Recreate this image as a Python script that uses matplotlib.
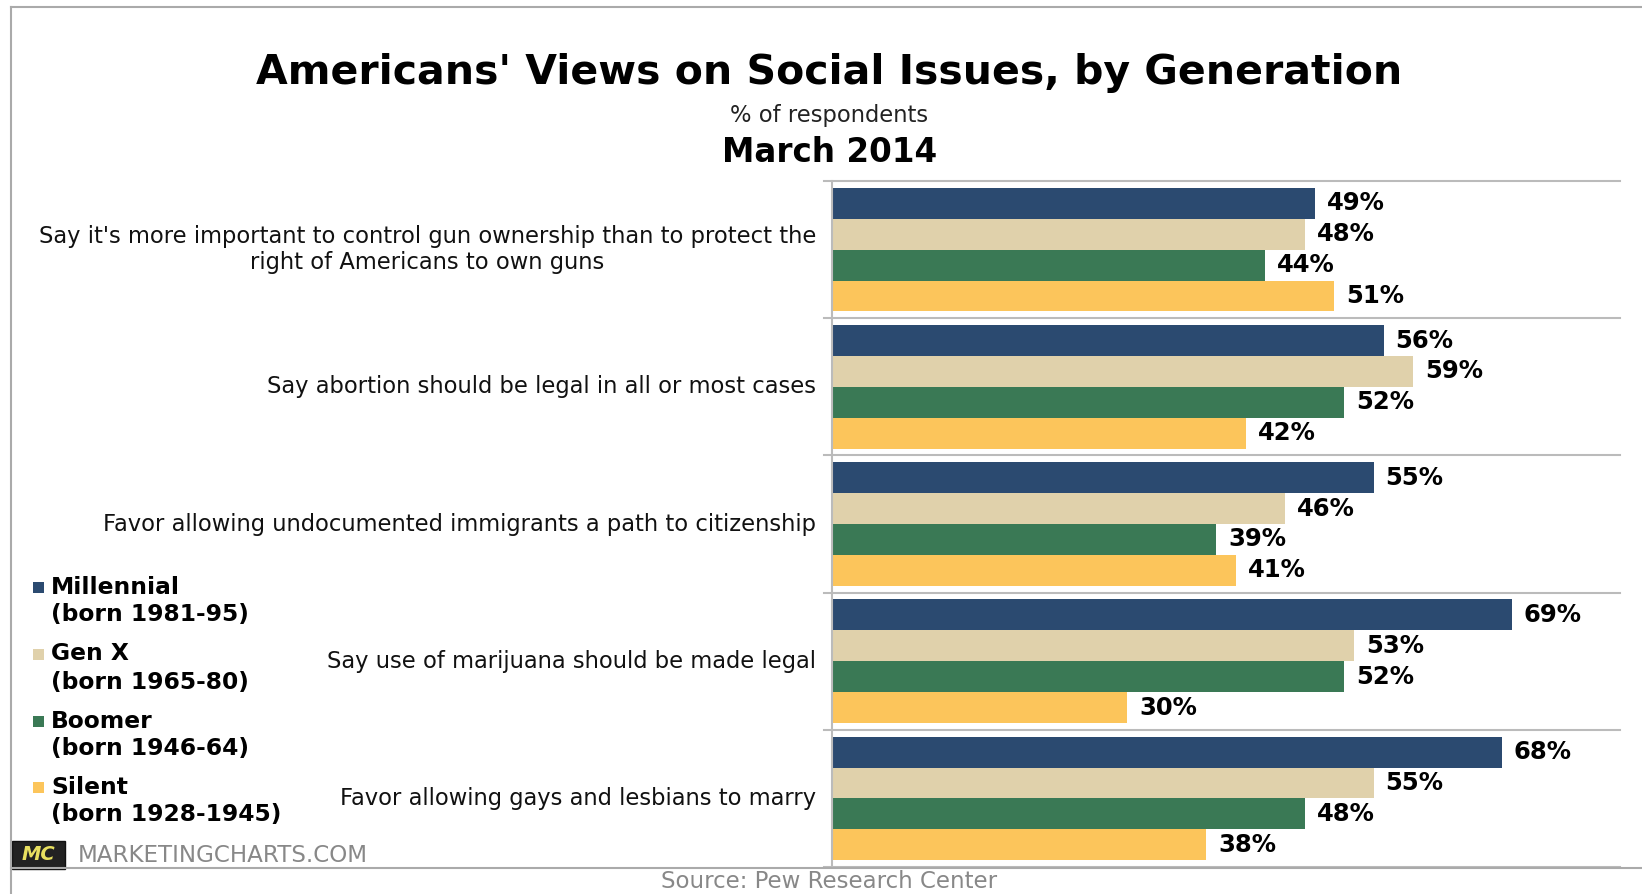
#!/usr/bin/env python3
"""Americans' views on social issues, by generation (bar chart recreation)."""

import numpy as np
import matplotlib
matplotlib.use("Agg")
import matplotlib.pyplot as plt
from matplotlib.lines import Line2D
from matplotlib.patches import Rectangle

# Data
issues = [
    "Say it's more important to control gun ownership than to protect the\nright of Americans to own guns",
    "Say abortion should be legal in all or most cases",
    "Favor allowing undocumented immigrants a path to citizenship",
    "Say use of marijuana should be made legal",
    "Favor allowing gays and lesbians to marry",
]
generations = ["Millennial", "Gen X", "Boomer", "Silent"]
born = ["(born 1981-95)", "(born 1965-80)", "(born 1946-64)", "(born 1928-1945)"]
millennial = [49, 56, 55, 69, 68]
gen_x = [48, 59, 46, 53, 55]
boomer = [44, 52, 39, 52, 48]
silent = [51, 42, 41, 30, 38]
colors = ["#2B4A70", "#E0D1AB", "#3A7955", "#FCC55B"]

series = [millennial, gen_x, boomer, silent]

plt.rcParams['font.family'] = ['DejaVu Sans']

fig = plt.figure(figsize=(16.42, 8.94), dpi=100)
fig.patch.set_facecolor('white')

ax = fig.add_axes([0.5067, 0.0302, 0.4799, 0.7673])

y = np.arange(len(issues))
bar_h = 0.225
offsets = np.array([-1.5, -0.5, 0.5, 1.5]) * bar_h
for vals, off, col in zip(series, offsets, colors):
    ax.barh(y + off, vals, height=bar_h, color=col, edgecolor='none')
    for yi, v in zip(y, vals):
        ax.text(v + 1.2, yi + off, f"{v}%", va='center', ha='left',
                fontsize=17.5, fontweight='bold', color='black')

ax.set_xlim(0, 80)
ax.set_ylim(len(issues) - 0.5, -0.5)
ax.set_xticks([])
ax.set_yticks([])
for s in ['top', 'right', 'bottom']:
    ax.spines[s].set_visible(False)
ax.spines['left'].set_color('#BBBBBB')
ax.spines['left'].set_linewidth(1.5)

# group separators
for b in np.arange(len(issues) + 1) - 0.5:
    ax.plot([-0.8, 80], [b, b], color='#BBBBBB', lw=1.5, clip_on=False,
            zorder=0)

# category labels
for yi, lab in zip(y, issues):
    ax.text(-1.6, yi, lab, ha='right', va='center', multialignment='center',
            fontsize=16.3, color='#111111', linespacing=1.15)

# titles
fig.text(0.505, 0.918, "Americans' Views on Social Issues, by Generation",
         ha='center', va='center', fontsize=29.5, fontweight='bold')
fig.text(0.505, 0.871, "% of respondents", ha='center', va='center',
         fontsize=16.3, color='#222222')
fig.text(0.505, 0.829, "March 2014", ha='center', va='center',
         fontsize=23.5, fontweight='bold')

# legend
leg_y = [587, 654, 721, 787]
for g, b, col, yy in zip(generations, born, colors, leg_y):
    yf = 1 - yy / 894
    fig.add_artist(Rectangle((33 / 1642, yf - 5.5 / 894), 11 / 1642, 11 / 894,
                             facecolor=col, edgecolor='none',
                             transform=fig.transFigure))
    fig.text(51 / 1642, yf, g, ha='left', va='center', fontsize=16.8,
             fontweight='bold')
    fig.text(51 / 1642, 1 - (yy + 28) / 894, b, ha='left', va='center',
             fontsize=16.8, fontweight='bold')

# frame
fig.add_artist(Line2D([11 / 1642, 1], [1 - 7 / 894, 1 - 7 / 894],
                      color='#AAAAAA', lw=1.5, transform=fig.transFigure))
fig.add_artist(Line2D([11 / 1642, 11 / 1642], [0, 1 - 7 / 894],
                      color='#AAAAAA', lw=1.5, transform=fig.transFigure))
fig.add_artist(Line2D([11 / 1642, 1], [1 - 868 / 894, 1 - 868 / 894],
                      color='#AAAAAA', lw=1.5, transform=fig.transFigure))

# MC logo and footer
fig.add_artist(Rectangle((12 / 1642, 1 - 869 / 894), 53 / 1642, 28 / 894,
                         facecolor='#222222', edgecolor='#111111',
                         transform=fig.transFigure))
fig.text(38 / 1642, 1 - 855 / 894, "MC", ha='center', va='center',
         fontsize=14, fontweight='bold', color='#E8E060', style='italic')
fig.text(78 / 1642, 1 - 856 / 894, "MARKETINGCHARTS.COM", ha='left',
         va='center', fontsize=16.6, color='#888888')
fig.text(0.505, 1 - 882 / 894, "Source: Pew Research Center", ha='center',
         va='center', fontsize=16.5, color='#888888')

fig.savefig('out.png', dpi=100, facecolor='white')
